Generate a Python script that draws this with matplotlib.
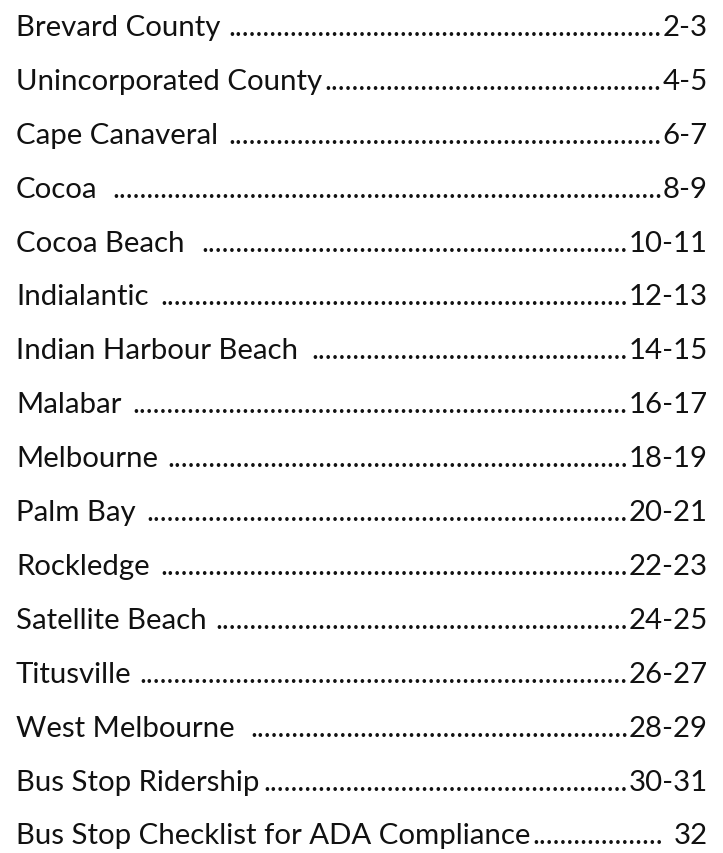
import matplotlib
matplotlib.use("Agg")
import matplotlib.pyplot as plt

# Table of contents entries
sections = [
    "Brevard County", "Unincorporated County", "Cape Canaveral", "Cocoa",
    "Cocoa Beach", "Indialantic", "Indian Harbour Beach", "Malabar",
    "Melbourne", "Palm Bay", "Rockledge", "Satellite Beach", "Titusville",
    "West Melbourne", "Bus Stop Ridership", "Bus Stop Checklist for ADA Compliance",
]
pages = ["2-3", "4-5", "6-7", "8-9", "10-11", "12-13", "14-15", "16-17",
         "18-19", "20-21", "22-23", "24-25", "26-27", "28-29", "30-31", "32"]
# spaces (in space widths) between the title and the leader dots, and between dots and page
gap_before_dots = [1.05, 0, 1.05, 1.5, 1.6, 1.05, 1.4, 1.05, 1.05, 1.15, 1.4, 1.15, 0.95, 1.15, 0, 0]
gap_after_dots = [0, 0, 0, 0, 0, 0, 0, 0, 0, 0, 0, 0, 0, 0, 0, 1.3]

W, H = 723, 854
FONT = "Lato"
SIZE = 21.2
COLOR = "#111111"

fig = plt.figure(figsize=(W / 100, H / 100), dpi=100)
ax = fig.add_axes([0, 0, 1, 1])
ax.set_xlim(0, W)
ax.set_ylim(H, 0)
ax.axis("off")

x_left, x_right = 16, 708
y0, dy = 36, 53.9

fig.canvas.draw()
renderer = fig.canvas.get_renderer()
inv = ax.transData.inverted()

def width_of(s):
    t = ax.text(0, 0, s, fontsize=SIZE, family=FONT)
    bb = t.get_window_extent(renderer)
    t.remove()
    return bb.width

dot_w = (width_of("." * 41) - width_of("." * 1)) / 40
space_w = width_of("a a") - width_of("aa")

for i, (name, pg) in enumerate(zip(sections, pages)):
    y = y0 + i * dy
    tl = ax.text(x_left, y, name, fontsize=SIZE, family=FONT, color=COLOR,
                 ha="left", va="baseline")
    tp = ax.text(x_right, y, pg, fontsize=SIZE, family=FONT, color=COLOR,
                 ha="right", va="baseline")
    bl = tl.get_window_extent(renderer)
    bp = tp.get_window_extent(renderer)
    start = bl.x1 + gap_before_dots[i] * space_w
    end = bp.x0 - gap_after_dots[i] * space_w - 1
    n = int((end - start) // dot_w)
    x_end = inv.transform((end, 0))[0]
    ax.text(x_end, y, "." * n, fontsize=SIZE, family=FONT, color=COLOR,
            ha="right", va="baseline")

fig.savefig("out.png", dpi=100, facecolor="white")
